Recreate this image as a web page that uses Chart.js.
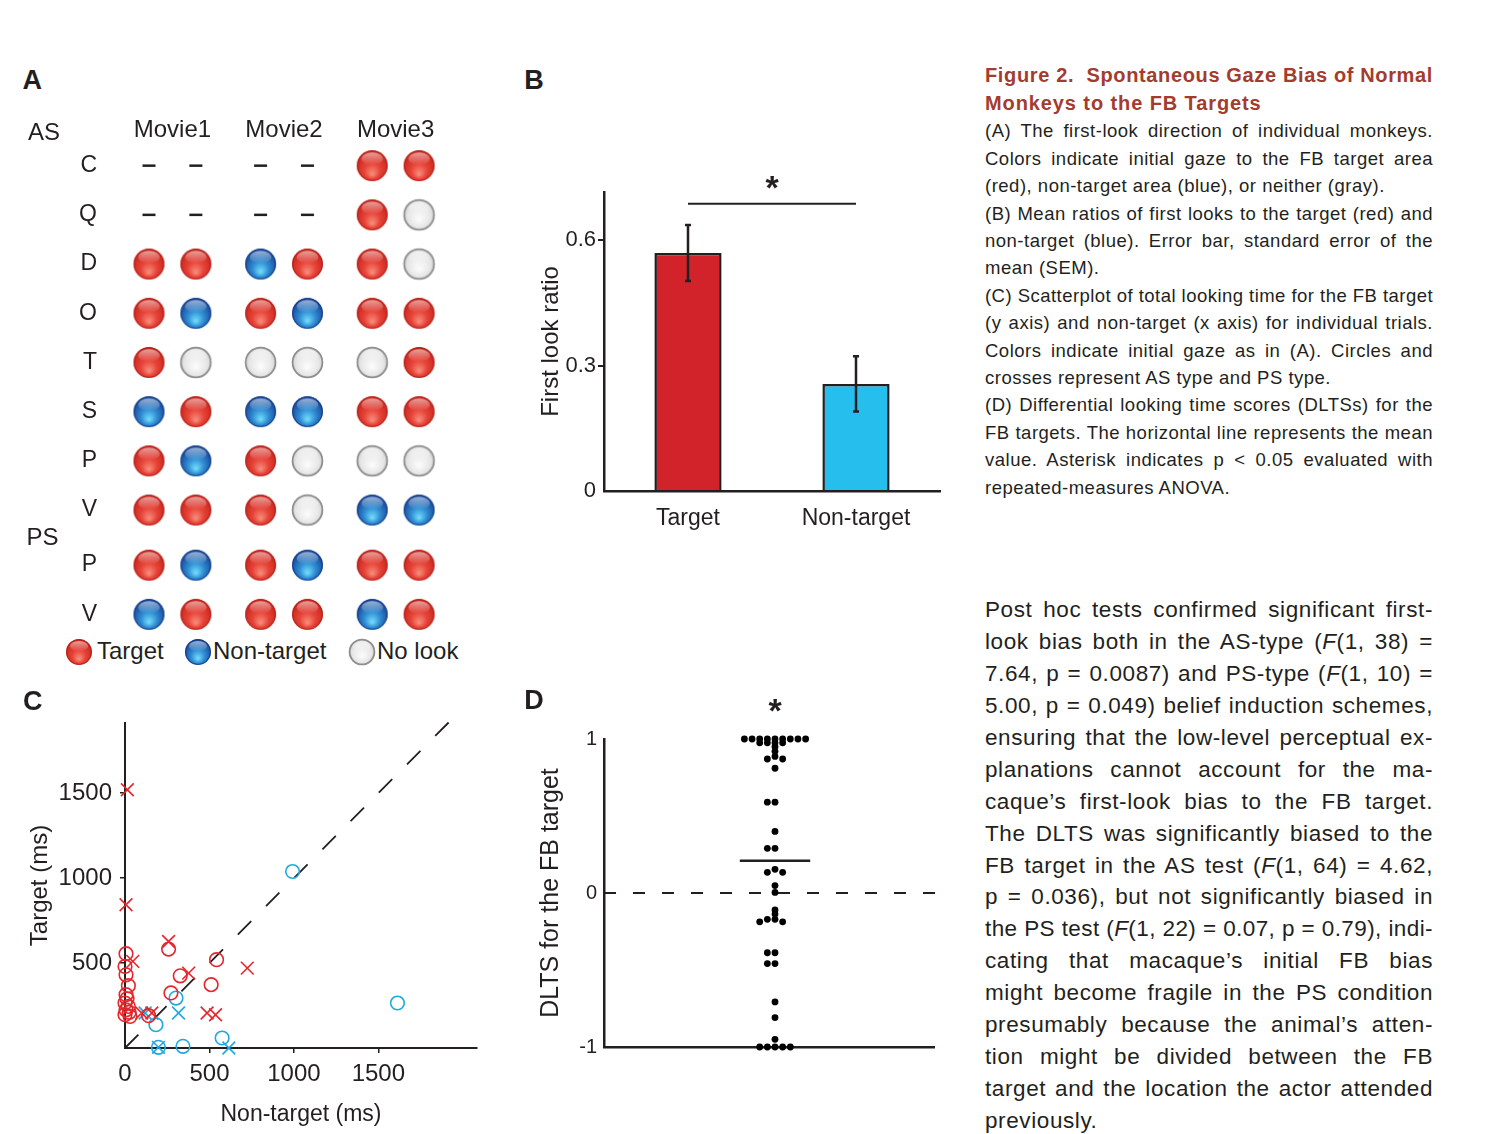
<!DOCTYPE html>
<html><head><meta charset="utf-8"><title>Figure 2</title>
<script src="https://cdn.jsdelivr.net/npm/chart.js@4.4.1/dist/chart.umd.min.js"></script>
<style>
html,body{margin:0;padding:0;background:#fff}
body{width:1492px;height:1134px;position:relative;overflow:hidden;font-family:"Liberation Sans",Arial,Helvetica,sans-serif;color:#231f20}
canvas.chart,canvas.ball{position:absolute}
.txt{position:absolute;white-space:pre}
</style></head><body>
<canvas id="cA" class="chart" width="480" height="535" style="left:0;top:100px"></canvas>
<canvas id="cB" class="chart" width="440" height="400" style="left:520px;top:150px"></canvas>
<canvas id="cC" class="chart" width="480" height="434" style="left:0;top:700px"></canvas>
<canvas id="cD" class="chart" width="440" height="380" style="left:520px;top:690px"></canvas>
<script>
// ===================== DATA =====================
// Panel A: first-look direction (T = target, N = non-target, L = no look, - = not tested)
const movieLabels = ['Movie1', 'Movie2', 'Movie3'];
const rowLabels = ['C', 'Q', 'D', 'O', 'T', 'S', 'P', 'V', 'P', 'V'];
const rowGroups = ['AS', 'AS', 'AS', 'AS', 'AS', 'AS', 'AS', 'AS', 'PS', 'PS'];
const firstLook = [
  ['-', '-', '-', '-', 'T', 'T'],
  ['-', '-', '-', '-', 'T', 'L'],
  ['T', 'T', 'N', 'T', 'T', 'L'],
  ['T', 'N', 'T', 'N', 'T', 'T'],
  ['T', 'L', 'L', 'L', 'L', 'T'],
  ['N', 'T', 'N', 'N', 'T', 'T'],
  ['T', 'N', 'T', 'L', 'L', 'L'],
  ['T', 'T', 'T', 'L', 'N', 'N'],
  ['T', 'N', 'T', 'N', 'T', 'T'],
  ['N', 'T', 'T', 'T', 'N', 'T']
];
const lookLabels = { T: 'Target', N: 'Non-target', L: 'No look' };

// Panel B: mean first-look ratio and SEM
const barLabels = ['Target', 'Non-target'];
const barMeans = [0.569, 0.256];
const barSEM = [0.067, 0.066];
const barTicks = [0, 0.3, 0.6];
const barTickLabels = ['0', '0.3', '0.6'];
const sigLevel = 0.687;

// Panel C: [non-target ms, target ms]
const scatterTicksX = [0, 500, 1000, 1500];
const scatterTicksY = [500, 1000, 1500];
const asTargetFirst = [[6, 555], [0, 480], [6, 431], [20, 367], [6, 314], [12, 290], [0, 265], [20, 245], [6, 225], [25, 210], [0, 196], [30, 186],
  [258, 582], [327, 425], [272, 324], [542, 520], [510, 373], [140, 190]];
const asNonTargetFirst = [[992, 1039], [1613, 265], [302, 294], [183, 137], [575, 59], [343, 10], [198, 4]];
const psTargetFirst = [[14, 1520], [6, 843], [46, 510], [258, 627], [377, 441], [724, 470], [486, 206], [536, 196], [159, 206], [99, 206]];
const psNonTargetFirst = [[317, 206], [198, 4], [615, 0], [119, 206]];
const diagonalEnd = 1960;

// Panel D: DLTS values
const dltsValues = [1, 1, 1, 1, 1, 1, 1, 1, 1, 0.975, 0.975, 0.975, 0.975, 0.95, 0.92, 0.887, 0.87, 0.87, 0.81,
  0.59, 0.59, 0.40, 0.29, 0.29, 0.154, 0.134, 0.134, 0.048, 0.004, -0.11, -0.137, -0.171, -0.171, -0.187, -0.187,
  -0.388, -0.388, -0.458, -0.458, -0.707, -0.809, -0.95, -1, -1, -1, -1, -1];
const dltsMean = 0.21;
const dltsTicks = [-1, 0, 1];
const dltsTickLabels = ['-1', '0', '1'];

// ===================== STYLE =====================
const INK = '#231f20';
const barColors = ['#d2232a', '#26bfed'];
const sRed = '#e6262d', sBlue = '#1fa9e1';
const FONT = '"Liberation Sans", Arial, Helvetica, sans-serif';

Chart.defaults.font.family = FONT;
Chart.defaults.color = INK;
Chart.defaults.animation = false;
Chart.defaults.responsive = false;
Chart.defaults.devicePixelRatio = 1;
Chart.defaults.events = [];
Chart.defaults.layout.autoPadding = false;
Chart.defaults.plugins.legend.display = false;
Chart.defaults.plugins.tooltip.enabled = false;

// fix an axis box size and drop label overflow padding
const fixW = w => ax => { ax.width = w; ax.paddingTop = 0; ax.paddingBottom = 0; ax.paddingLeft = 0; ax.paddingRight = 0; };
const fixH = h => ax => { ax.height = h; ax.paddingTop = 0; ax.paddingBottom = 0; ax.paddingLeft = 0; ax.paddingRight = 0; };

function makeBall(kind, d) {
  const s = Math.ceil(d + 4);
  const c = document.createElement('canvas'); c.width = s; c.height = s;
  const g = c.getContext('2d'); const r = d / 2, cx = s / 2, cy = s / 2;
  let grd;
  if (kind === 'T') {
    grd = g.createRadialGradient(cx, cy + 0.55 * r, 0.05 * r, cx, cy + 0.1 * r, 1.05 * r);
    grd.addColorStop(0, '#f58a78'); grd.addColorStop(0.45, '#e8453a'); grd.addColorStop(1, '#c9261d');
  } else if (kind === 'N') {
    grd = g.createRadialGradient(cx, cy + 0.5 * r, 0.05 * r, cx, cy + 0.15 * r, 1.05 * r);
    grd.addColorStop(0, '#6fd8f8'); grd.addColorStop(0.45, '#3190d5'); grd.addColorStop(1, '#1b4a9a');
  } else {
    grd = g.createRadialGradient(cx, cy + 0.3 * r, 0.05 * r, cx, cy, r);
    grd.addColorStop(0, '#fbfbfb'); grd.addColorStop(0.7, '#e7e7e7'); grd.addColorStop(1, '#d2d2d2');
  }
  g.beginPath(); g.arc(cx, cy, r, 0, Math.PI * 2); g.fillStyle = grd; g.fill();
  g.beginPath(); g.ellipse(cx, cy - 0.45 * r, 0.7 * r, 0.4 * r, 0, 0, Math.PI * 2);
  const lg = g.createLinearGradient(0, cy - 0.85 * r, 0, cy - 0.05 * r);
  lg.addColorStop(0, 'rgba(255,255,255,0.55)'); lg.addColorStop(1, 'rgba(255,255,255,0)');
  g.fillStyle = lg; g.fill();
  g.beginPath(); g.arc(cx, cy, r - 0.6, 0, Math.PI * 2);
  g.strokeStyle = kind === 'T' ? 'rgba(165,30,25,0.7)' : kind === 'N' ? 'rgba(20,55,130,0.8)' : '#8e8e8e';
  g.lineWidth = kind === 'L' ? 1.8 : 1; g.stroke();
  return c;
}

// ===================== PANEL A =====================
const TRIAL_STEP = 0.42, PS_GAP = 0.12;
const colX = c => Math.floor(c / 2) + (c % 2) * TRIAL_STEP;
const rowY = r => r + (rowGroups[r] === 'PS' ? PS_GAP : 0);
function lookPoints(code) {
  const out = [];
  firstLook.forEach((row, r) => row.forEach((v, c) => { if (v === code) out.push({ x: colX(c), y: rowY(r) }); }));
  return out;
}
const balls = { T: makeBall('T', 31), N: makeBall('N', 31), L: makeBall('L', 31) };
new Chart(document.getElementById('cA'), {
  type: 'scatter',
  data: {
    datasets: [
      ...['T', 'N', 'L'].map(k => ({ label: lookLabels[k], data: lookPoints(k), pointStyle: balls[k], pointRadius: 15, clip: false })),
      { label: 'not tested', data: lookPoints('-'), pointStyle: 'line', pointRadius: 6.5, borderWidth: 2.5, borderColor: INK, clip: false }
    ]
  },
  options: {
    layout: { padding: 0, autoPadding: false },
    scales: {
      x: {
        type: 'linear', position: 'top', min: -0.448, max: 2.966, bounds: 'data',
        grid: { display: false, drawTicks: false }, border: { display: false },
        afterBuildTicks: ax => { ax.ticks = movieLabels.map((m, i) => ({ value: i + TRIAL_STEP / 2 })); },
        afterFit: fixH(45),
        ticks: { autoSkip: false, maxRotation: 0, padding: 0, font: { size: 24 }, callback: (v, i) => movieLabels[i] }
      },
      y: {
        type: 'linear', reverse: true, min: -0.42, max: 9.54, bounds: 'data',
        grid: { display: false, drawTicks: false }, border: { display: false },
        afterBuildTicks: ax => { ax.ticks = rowLabels.map((l, i) => ({ value: rowY(i) })); },
        afterFit: fixW(99),
        ticks: { autoSkip: false, padding: 2, font: { size: 23 }, callback: (v, i) => rowLabels[i] }
      }
    }
  }
});

// ===================== PANEL B =====================
const barPlugin = {
  id: 'barExtras',
  afterDatasetsDraw(chart) {
    const { ctx, scales: { x, y } } = chart;
    const meta = chart.getDatasetMeta(0);
    ctx.save(); ctx.strokeStyle = INK; ctx.lineWidth = 2.5;
    meta.data.forEach((bar, i) => {
      const hi = y.getPixelForValue(barMeans[i] + barSEM[i]);
      const lo = y.getPixelForValue(barMeans[i] - barSEM[i]);
      ctx.beginPath();
      ctx.moveTo(bar.x, hi); ctx.lineTo(bar.x, lo);
      ctx.moveTo(bar.x - 3, hi); ctx.lineTo(bar.x + 3, hi);
      ctx.moveTo(bar.x - 3, lo); ctx.lineTo(bar.x + 3, lo);
      ctx.stroke();
    });
    const xm = (x.getPixelForValue(0) + x.getPixelForValue(1)) / 2;
    const ys = y.getPixelForValue(sigLevel);
    ctx.font = 'bold 34px ' + FONT; ctx.textAlign = 'center'; ctx.textBaseline = 'alphabetic'; ctx.fillStyle = INK;
    ctx.fillText('*', xm, ys - 24.5 + 0.58 * 34);
    ctx.restore();
  }
};
new Chart(document.getElementById('cB'), {
  type: 'bar',
  data: {
    labels: barLabels,
    datasets: [
      { type: 'bar', data: barMeans, backgroundColor: barColors, borderColor: INK, borderWidth: 2.5, barPercentage: 0.4, categoryPercentage: 1, order: 2 },
      { type: 'line', data: barLabels.map(() => sigLevel), borderColor: INK, borderWidth: 2, pointRadius: 0, clip: false, order: 1 }
    ]
  },
  options: {
    layout: { padding: { top: 42, right: 20, left: 0, bottom: 0 }, autoPadding: false },
    scales: {
      x: {
        grid: { display: false }, border: { color: INK, width: 2.5 },
        afterFit: fixH(59),
        ticks: { padding: 6, font: { size: 23 } }
      },
      y: {
        min: 0, max: 0.715, bounds: 'data',
        afterBuildTicks: ax => { ax.ticks = barTicks.map(v => ({ value: v })); },
        afterFit: fixW(84),
        ticks: { padding: 2, font: { size: 22 }, callback: (v, i) => barTickLabels[i] },
        grid: { drawOnChartArea: false, tickLength: 6, lineWidth: 2, color: c => (c.tick && c.tick.value === 0) ? 'rgba(0,0,0,0)' : INK },
        border: { color: INK, width: 2.5 },
        title: { display: true, text: 'First look ratio', font: { size: 24 }, padding: { top: 17, bottom: 0 } }
      }
    }
  },
  plugins: [barPlugin]
});

// ===================== PANEL C =====================
const toXY = arr => arr.map(([x, y]) => ({ x, y }));
new Chart(document.getElementById('cC'), {
  type: 'scatter',
  data: {
    datasets: [
      { label: 'AS target', data: toXY(asTargetFirst), pointStyle: 'circle', pointRadius: 6.8, borderColor: sRed, backgroundColor: 'rgba(0,0,0,0)', borderWidth: 1.6, clip: false },
      { label: 'AS non-target', data: toXY(asNonTargetFirst), pointStyle: 'circle', pointRadius: 6.8, borderColor: sBlue, backgroundColor: 'rgba(0,0,0,0)', borderWidth: 1.6, clip: false },
      { label: 'PS target', data: toXY(psTargetFirst), pointStyle: 'crossRot', pointRadius: 9, borderColor: sRed, borderWidth: 1.6, clip: false },
      { label: 'PS non-target', data: toXY(psNonTargetFirst), pointStyle: 'crossRot', pointRadius: 9, borderColor: sBlue, borderWidth: 1.6, clip: false },
      { type: 'line', label: 'unity', data: [{ x: 0, y: 0 }, { x: diagonalEnd, y: diagonalEnd }], borderColor: INK, borderWidth: 1.8, borderDash: [19, 21], pointRadius: 0, clip: false }
    ]
  },
  options: {
    layout: { padding: { top: 23, right: 3, left: 0, bottom: 0 }, autoPadding: false },
    scales: {
      x: {
        type: 'linear', min: 0, max: 2084, bounds: 'data',
        afterBuildTicks: ax => { ax.ticks = scatterTicksX.map(v => ({ value: v })); },
        afterFit: fixH(86),
        ticks: { padding: 7, font: { size: 24 }, maxRotation: 0, callback: v => String(v) },
        grid: { drawOnChartArea: false, tickLength: 5, lineWidth: 1.5, color: c => (c.tick && c.tick.value === 0) ? 'rgba(0,0,0,0)' : INK },
        border: { color: INK, width: 2 },
        title: { display: true, text: 'Non-target (ms)', font: { size: 23 }, padding: { top: 0, bottom: 5.5 } }
      },
      y: {
        type: 'linear', min: 0, max: 1913, bounds: 'data',
        afterBuildTicks: ax => { ax.ticks = scatterTicksY.map(v => ({ value: v })); },
        afterFit: fixW(125),
        ticks: { padding: 8, font: { size: 24 }, callback: v => String(v) },
        grid: { drawOnChartArea: false, tickLength: 5, lineWidth: 1.5, color: INK },
        border: { color: INK, width: 2 },
        title: { display: true, text: 'Target (ms)', font: { size: 24 }, padding: { top: 26, bottom: 0 } }
      }
    }
  }
});

// ===================== PANEL D =====================
const SLOT_PX = 7.65, PX_PER_UNIT = 153.7, OVERLAP_PX = 3.5;
function swarm(values) {
  const order = values.map((v, i) => i).sort((a, b) => values[b] - values[a]);
  const placed = []; const out = new Array(values.length);
  const cands = [0]; for (let k = 1; k < 25; k++) cands.push(-k, k);
  order.forEach(i => {
    const py = values[i] * PX_PER_UNIT;
    for (const s of cands) {
      if (!placed.some(p => p.s === s && Math.abs(p.py - py) < OVERLAP_PX)) {
        placed.push({ s, py }); out[i] = { x: s, y: values[i] }; break;
      }
    }
  });
  return out;
}
const D_XMIN = -22.35, D_XMAX = 20.78;
const dPlugin = {
  id: 'dStar',
  afterDatasetsDraw(chart) {
    const { ctx, scales: { x }, chartArea } = chart;
    ctx.save(); ctx.font = 'bold 34px ' + FONT; ctx.textAlign = 'center'; ctx.textBaseline = 'alphabetic'; ctx.fillStyle = INK;
    ctx.fillText('*', x.getPixelForValue(0), chartArea.top - 37 + 0.58 * 34);
    ctx.restore();
  }
};
new Chart(document.getElementById('cD'), {
  type: 'scatter',
  data: {
    datasets: [
      { label: 'DLTS', data: swarm(dltsValues), pointStyle: 'circle', pointRadius: 3.4, backgroundColor: '#000', borderWidth: 0, clip: false },
      { type: 'line', label: 'mean', data: [{ x: -4.6, y: dltsMean }, { x: 4.6, y: dltsMean }], borderColor: INK, borderWidth: 2.5, pointRadius: 0, clip: false },
      { type: 'line', label: 'zero', data: [{ x: D_XMIN, y: 0 }, { x: 22.1, y: 0 }], borderColor: INK, borderWidth: 2, borderDash: [12, 17], pointRadius: 0, clip: false }
    ]
  },
  options: {
    layout: { padding: { top: 49, right: 26, left: 0, bottom: 0 }, autoPadding: false },
    scales: {
      x: {
        type: 'linear', min: D_XMIN, max: D_XMAX, bounds: 'data',
        ticks: { display: false }, grid: { display: false, drawTicks: false },
        border: { color: INK, width: 2.5 },
        afterFit: fixH(23)
      },
      y: {
        type: 'linear', min: -1, max: 1, bounds: 'data',
        afterBuildTicks: ax => { ax.ticks = dltsTicks.map(v => ({ value: v })); },
        afterFit: fixW(84),
        ticks: { padding: 7, font: { size: 20 }, callback: (v, i) => dltsTickLabels[i] },
        grid: { display: false, drawTicks: false },
        border: { color: INK, width: 2.5 },
        title: { display: true, text: 'DLTS for the FB target', font: { size: 25 }, padding: { top: 16.5, bottom: 0 } }
      }
    }
  },
  plugins: [dPlugin]
});

// ===================== TEXT =====================
function addText(html, cx, cy, fs, opts = {}) {
  const d = document.createElement('div'); d.className = 'txt'; d.innerHTML = html;
  d.style.fontSize = fs + 'px'; d.style.lineHeight = fs + 'px';
  if (opts.bold) d.style.fontWeight = 'bold';
  if (opts.color) d.style.color = opts.color;
  d.style.top = (cy - 0.4885 * fs) + 'px';
  document.body.appendChild(d);
  const w = d.getBoundingClientRect().width;
  d.style.left = (opts.left ? cx : cx - w / 2) + 'px';
}
function addLines(lines, left, width, firstCenter, lh, fs, opts = {}) {
  const ls0 = opts.ls || 0;
  lines.forEach(([html, just], i) => {
    const d = document.createElement('div'); d.className = 'txt'; d.innerHTML = html;
    d.style.fontSize = fs + 'px'; d.style.lineHeight = lh + 'px';
    d.style.letterSpacing = ls0 + 'px';
    d.style.left = left + 'px'; d.style.top = (firstCenter + i * lh - lh / 2) + 'px';
    if (opts.bold) d.style.fontWeight = 'bold';
    if (opts.color) d.style.color = opts.color;
    document.body.appendChild(d);
    const w = d.getBoundingClientRect().width;
    const extra = width - w;
    const txt = d.textContent;
    if (just) {
      const n = (txt.match(/ /g) || []).length;
      if (extra >= 0 && n > 0) d.style.wordSpacing = (extra / n) + 'px';
      else d.style.letterSpacing = (ls0 + extra / txt.length) + 'px';
    } else if (extra < 0) {
      d.style.letterSpacing = (ls0 + extra / txt.length) + 'px';
    }
  });
}

// panel letters
addText('A', 32.3, 79.7, 27, { bold: true });
addText('B', 534, 80.5, 27, { bold: true });
addText('C', 32.8, 700.8, 27, { bold: true });
addText('D', 534, 700.5, 27, { bold: true });
// group labels in A
addText('AS', 44, 132, 24);
addText('PS', 42.5, 537, 24);

// legend of A (HTML)
const legendItems = [['T', 79, 97], ['N', 198, 213], ['L', 362, 377]];
legendItems.forEach(([k, bx, tx]) => {
  const b = makeBall(k, 26); b.className = 'ball';
  b.style.left = (bx - b.width / 2) + 'px'; b.style.top = (651.7 - b.height / 2) + 'px';
  document.body.appendChild(b);
  addText(lookLabels[k], tx, 650.5, 24, { left: true });
});

// caption
const titleLines = [
  ['Figure 2.  Spontaneous Gaze Bias of Normal', true],
  ['Monkeys to the FB Targets', false]
];
addLines(titleLines, 985, 448, 75.7, 27.6, 20, { bold: true, color: '#a33c2e', ls: 0.9 });
const captionLines = [
  ['(A) The first-look direction of individual monkeys.', true],
  ['Colors indicate initial gaze to the FB target area', true],
  ['(red), non-target area (blue), or neither (gray).', false],
  ['(B) Mean ratios of first looks to the target (red) and', true],
  ['non-target (blue). Error bar, standard error of the', true],
  ['mean (SEM).', false],
  ['(C) Scatterplot of total looking time for the FB target', true],
  ['(y axis) and non-target (x axis) for individual trials.', true],
  ['Colors indicate initial gaze as in (A). Circles and', true],
  ['crosses represent AS type and PS type.', false],
  ['(D) Differential looking time scores (DLTSs) for the', true],
  ['FB targets. The horizontal line represents the mean', true],
  ['value. Asterisk indicates p &lt; 0.05 evaluated with', true],
  ['repeated-measures ANOVA.', false]
];
addLines(captionLines, 985, 448, 131, 27.4, 18.5, { ls: 0.5 });
const bodyLines = [
  ['Post hoc tests confirmed significant first-', true],
  ['look bias both in the AS-type (<i>F</i>(1, 38) =', true],
  ['7.64, p = 0.0087) and PS-type (<i>F</i>(1, 10) =', true],
  ['5.00, p = 0.049) belief induction schemes,', true],
  ['ensuring that the low-level perceptual ex-', true],
  ['planations cannot account for the ma-', true],
  ['caque’s first-look bias to the FB target.', true],
  ['The DLTS was significantly biased to the', true],
  ['FB target in the AS test (<i>F</i>(1, 64) = 4.62,', true],
  ['p = 0.036), but not significantly biased in', true],
  ['the PS test (<i>F</i>(1, 22) = 0.07, p = 0.79), indi-', true],
  ['cating that macaque’s initial FB bias', true],
  ['might become fragile in the PS condition', true],
  ['presumably because the animal’s atten-', true],
  ['tion might be divided between the FB', true],
  ['target and the location the actor attended', true],
  ['previously.', false]
];
addLines(bodyLines, 985, 448, 610.3, 31.9, 22.5, { ls: 0.6 });
</script>
</body></html>
